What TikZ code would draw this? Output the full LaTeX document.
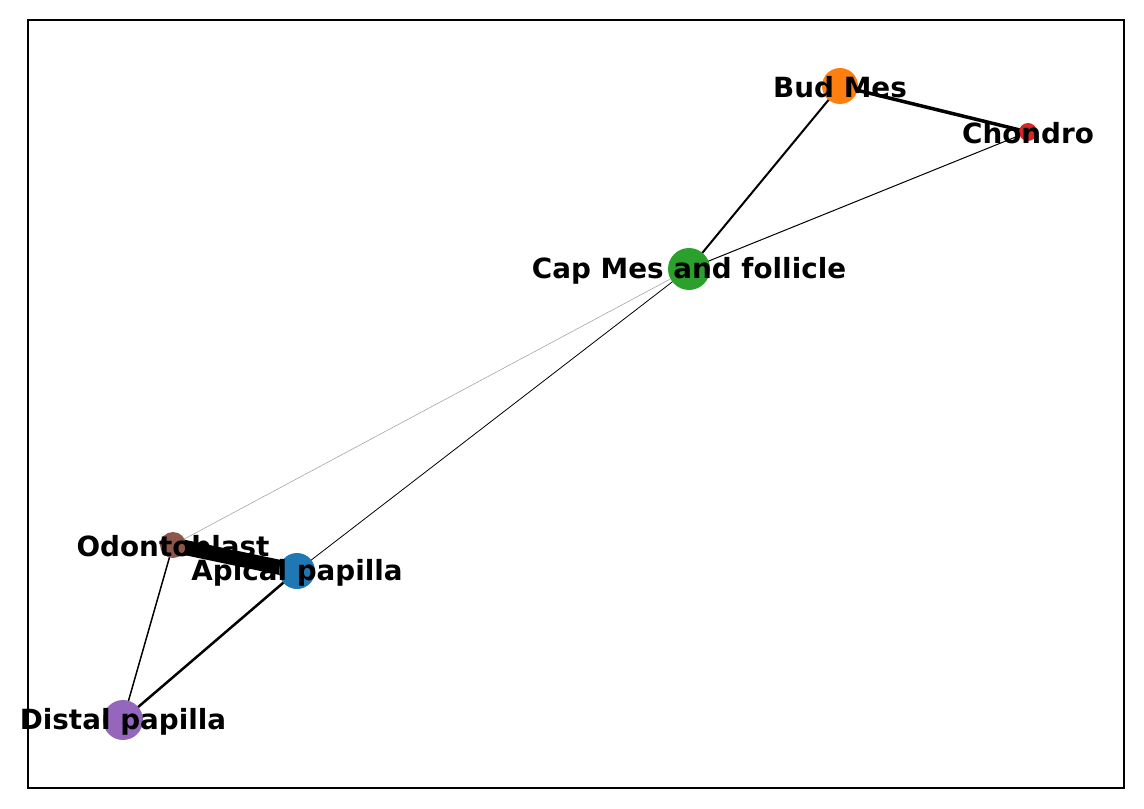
\documentclass[tikz,border=0pt]{standalone}
\usepackage{fontspec}
\setmainfont{DejaVu Sans}
\pgfdeclarelayer{background}
\pgfsetlayers{background,main}
\definecolor{tabblue}{HTML}{1F77B4}
\definecolor{taborange}{HTML}{FF7F0E}
\definecolor{tabgreen}{HTML}{2CA02C}
\definecolor{tabred}{HTML}{D62728}
\definecolor{tabpurple}{HTML}{9467BD}
\definecolor{tabbrown}{HTML}{8C564B}
\tikzset{
  nodo/.style={circle, inner sep=0pt, draw=none},
  etichetta/.style={font=\fontsize{13.9}{16}\selectfont\bfseries, text=black, inner sep=0pt, yshift=-0.75pt}
}
\begin{document}
\begin{tikzpicture}[x=0.5pt, y=-0.5pt]
	% Area e cornice
	\useasboundingbox (0,0) rectangle (1144,808);
	\draw[line width=0.75pt] (28,20) rectangle (1124,788);
	
	% --- Nodi ---
	\node[nodo, fill=taborange, minimum size=18pt, label={[etichetta]center:Bud Mes}] (bud) at (840,86) {};
	\node[nodo, fill=tabred, minimum size=9pt, label={[etichetta]center:Chondro}] (chondro) at (1028,132) {};
	\node[nodo, fill=tabgreen, minimum size=21pt, label={[etichetta]center:Cap Mes and follicle}] (cap) at (689,269) {};
	\node[nodo, fill=tabbrown, minimum size=13pt, label={[etichetta]center:Odontoblast}] (odonto) at (173,545) {};
	\node[nodo, fill=tabblue, minimum size=18pt, label={[etichetta]center:Apical papilla}] (apical) at (297,571) {};
	\node[nodo, fill=tabpurple, minimum size=20pt, label={[etichetta]center:Distal papilla}] (distal) at (123,720) {};
	
	% --- Archi ---
	\begin{pgfonlayer}{background}
		\draw[line width=1.75pt] (bud.center) -- (chondro.center);
		\draw[line width=1pt] (bud.center) -- (cap.center);
		\draw[line width=0.5pt] (chondro.center) -- (cap.center);
		\draw[line width=0.25pt, black!40] (cap.center) -- (odonto.center);
		\draw[line width=0.4pt] (cap.center) -- (apical.center);
		\draw[line width=7.5pt] (odonto.center) -- (apical.center);
		\draw[line width=0.75pt] (odonto.center) -- (distal.center);
		\draw[line width=1.25pt] (apical.center) -- (distal.center);
	\end{pgfonlayer}
\end{tikzpicture}
\end{document}
